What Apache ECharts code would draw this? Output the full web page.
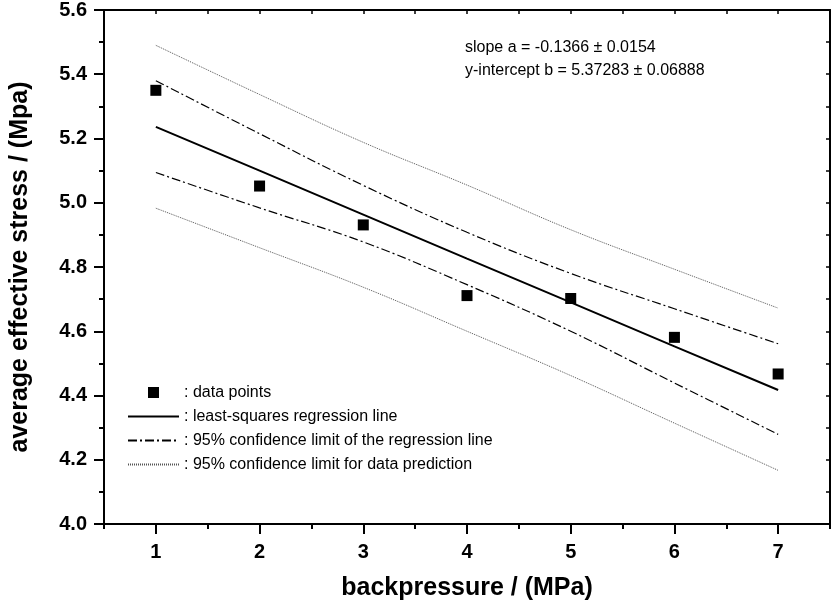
<!DOCTYPE html>
<html><head><meta charset="utf-8">
<script src="https://cdn.jsdelivr.net/npm/echarts@6/dist/echarts.min.js"></script>
<style>html,body{margin:0;padding:0;background:#fff}#c{width:832px;height:606px}</style>
</head><body><div id="c"></div>
<script>
// ---- data ----
const xValues   = [1, 2, 3, 4, 5, 6, 7];
const stress    = [5.350, 5.052, 4.931, 4.711, 4.702, 4.581, 4.467];
const regLine   = [5.236, 5.100, 4.963, 4.826, 4.690, 4.553, 4.417];
const confUpper = [5.380, 5.215, 5.054, 4.908, 4.780, 4.670, 4.561];
const confLower = [5.094, 4.984, 4.878, 4.745, 4.600, 4.439, 4.279];
const predUpper = [5.490, 5.337, 5.188, 5.055, 4.916, 4.793, 4.672];
const predLower = [4.983, 4.860, 4.737, 4.600, 4.462, 4.314, 4.167];
const xTickLabels = [1, 2, 3, 4, 5, 6, 7];
const xMinorTicks = [0.5, 1.5, 2.5, 3.5, 4.5, 5.5, 6.5, 7.5];
const names = ['data points', 'least-squares regression line',
  '95% confidence limit of the regression line', '95% confidence limit for data prediction'];
const annot1 = 'slope a = -0.1366 \u00b1 0.0154';
const annot2 = 'y-intercept b = 5.37283 \u00b1 0.06888';

function pairs(ys){ return xValues.map((x,i)=>[x, ys[i]]); }

const SANS = '"Liberation Sans", Arial, sans-serif';
const titleSize = 25;
const smallSize = 16;
const black = '#000';

const chart = echarts.init(document.getElementById('c'), null, {renderer:'canvas'});
const option = {
  animation: false,
  backgroundColor: '#fff',
  grid: {left:104, right:2, top:10, bottom:82, containLabel:false},
  xAxis: [
    {type:'value', min:0.5, max:7.5, position:'bottom',
     axisLine:{show:true, onZero:false, lineStyle:{color:black, width:2}},
     axisTick:{show:true, customValues:xTickLabels, length:10, lineStyle:{color:black, width:2}},
     axisLabel:{show:true, customValues:xTickLabels, margin:18, fontSize:20, fontWeight:'bold', color:black, fontFamily:SANS},
     splitLine:{show:false},
     name:'backpressure / (MPa)', nameLocation:'middle', nameGap:52, nameMoveOverlap:false,
     nameTextStyle:{fontSize:titleSize, fontWeight:'bold', color:black, fontFamily:SANS}},
    {type:'value', min:0.5, max:7.5, position:'bottom',
     axisLine:{show:false, onZero:false},
     axisTick:{show:true, customValues:xMinorTicks, length:5, lineStyle:{color:black, width:2}},
     axisLabel:{show:false}, splitLine:{show:false}},
    {type:'value', min:0.5, max:7.5, interval:0.5, position:'top',
     axisLine:{show:true, onZero:false, lineStyle:{color:black, width:2}},
     axisTick:{show:true, inside:true, length:4, lineStyle:{color:black, width:1.5}},
     axisLabel:{show:false}, splitLine:{show:false}}
  ],
  yAxis: [
    {type:'value', min:4.0, max:5.6, interval:0.2, position:'left',
     axisLine:{show:true, onZero:false, lineStyle:{color:black, width:2}},
     axisTick:{show:true, length:10, lineStyle:{color:black, width:2}},
     minorTick:{show:true, splitNumber:2, length:5, lineStyle:{color:black, width:2}},
     axisLabel:{formatter:v=>v.toFixed(1), margin:17, fontSize:20, fontWeight:'bold', color:black, fontFamily:SANS},
     splitLine:{show:false},
     name:'average effective stress / (Mpa)', nameLocation:'middle', nameGap:71, nameMoveOverlap:false,
     nameTextStyle:{fontSize:titleSize, fontWeight:'bold', color:black, fontFamily:SANS}},
    {type:'value', min:4.0, max:5.6, interval:0.1, position:'right',
     axisLine:{show:true, onZero:false, lineStyle:{color:black, width:2}},
     axisTick:{show:true, inside:true, length:4, lineStyle:{color:black, width:1.5}},
     axisLabel:{show:false}, splitLine:{show:false}}
  ],
  legend: {
    orient:'vertical', left:122, top:379, itemWidth:51, itemHeight:11, itemGap:7,
    selectedMode:false, symbolKeepAspect:true,
    data:[
      {name:names[0], icon:'path://M0 0H10V10H0Z'},
      {name:names[1], itemStyle:{opacity:0}},
      {name:names[2], itemStyle:{opacity:0}},
      {name:names[3], itemStyle:{opacity:0}}
    ],
    formatter:n=>': '+n,
    textStyle:{fontSize:smallSize, lineHeight:17, fontFamily:SANS, color:black}
  },
  graphic: [
    {type:'text', left:465, top:40, style:{text:annot1, font:smallSize+'px '+SANS, fill:black}},
    {type:'text', left:465, top:63, style:{text:annot2, font:smallSize+'px '+SANS, fill:black}}
  ],
  series: [
    {name:names[1], type:'line', data:pairs(regLine), symbol:'none',
     lineStyle:{color:black, width:2}, itemStyle:{color:black}, z:3},
    {name:names[2], type:'line', data:pairs(confUpper), symbol:'none', smooth:0.4,
     lineStyle:{color:black, width:1.2, type:[9,3,2,3]}, itemStyle:{color:black}, z:2},
    {name:names[2], type:'line', data:pairs(confLower), symbol:'none', smooth:0.4,
     lineStyle:{color:black, width:1.2, type:[9,3,2,3]}, itemStyle:{color:black}, z:2},
    {name:names[3], type:'line', data:pairs(predUpper), symbol:'none', smooth:0.4,
     lineStyle:{color:'#555', width:1, type:[1,1]}, itemStyle:{color:'#555'}, z:2},
    {name:names[3], type:'line', data:pairs(predLower), symbol:'none', smooth:0.4,
     lineStyle:{color:'#555', width:1, type:[1,1]}, itemStyle:{color:'#555'}, z:2},
    {name:names[0], type:'scatter', data:pairs(stress), symbol:'rect', symbolSize:11,
     itemStyle:{color:black, opacity:1}, z:5}
  ]
};
chart.setOption(option);
</script></body></html>
